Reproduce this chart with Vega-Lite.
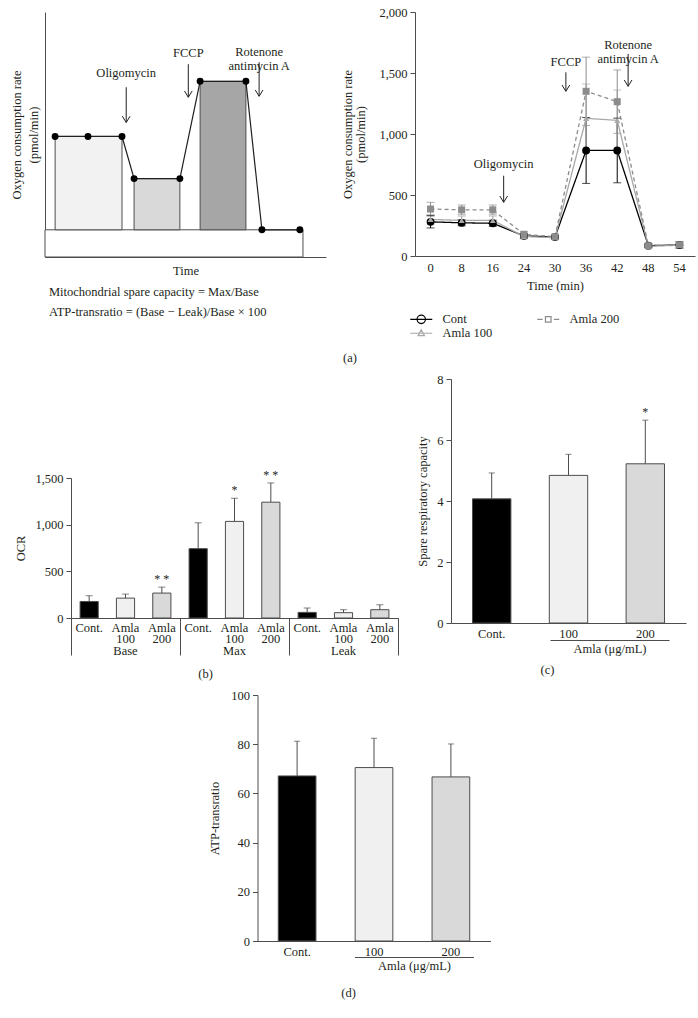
{
  "$schema": "https://vega.github.io/schema/vega-lite/v6.json",
  "background": "white",
  "padding": {"left": 10, "top": 6, "right": 0, "bottom": 5},
  "spacing": 8,
  "center": true,
  "resolve": {"scale": {"fill": "independent", "color": "independent", "shape": "independent", "size": "independent", "strokeDash": "independent", "stroke": "independent"}},
  "config": {
    "font": "Liberation Serif",
    "view": {"stroke": null},
    "axis": {"grid": false, "labelFont": "Liberation Serif", "titleFont": "Liberation Serif", "labelFontSize": 12.5, "titleFontSize": 12.5, "titleFontWeight": "normal", "labelColor": "#231f20", "titleColor": "#231f20", "domainColor": "#4d4d4d", "tickColor": "#4d4d4d", "domainWidth": 1, "tickWidth": 1},
    "title": {"font": "Liberation Serif", "fontSize": 12.5, "fontWeight": "normal", "color": "#231f20"},
    "legend": {"labelFont": "Liberation Serif", "labelFontSize": 12.5, "labelColor": "#231f20"}
  },
  "vconcat": [
    {
      "title": {"text": "(a)", "orient": "bottom", "anchor": "middle", "offset": 12, "dx": -11},
      "spacing": 15,
      "resolve": {"scale": {"fill": "independent", "color": "independent", "shape": "independent", "size": "independent", "strokeDash": "independent", "stroke": "independent"}},
      "hconcat": [
        {
          "width": 281,
          "height": 245,
          "title": {"text": ["Mitochondrial spare capacity = Max/Base", "ATP-transratio = (Base − Leak)/Base × 100"], "orient": "bottom", "anchor": "start", "frame": "group", "offset": 9, "lineHeight": 20, "dx": 4},
          "layer": [
            {
              "data": {"values": [
                {"phase": "Leak box", "x0": 0, "x1": 91.8, "y0": 0, "y1": 11.1},
                {"phase": "Base", "x0": 3.6, "x1": 27.4, "y0": 11.1, "y1": 49.2},
                {"phase": "Oligomycin", "x0": 31.7, "x1": 48.0, "y0": 11.1, "y1": 32.0},
                {"phase": "Max", "x0": 55.2, "x1": 71.5, "y0": 11.1, "y1": 71.7}
              ]},
              "mark": {"type": "rect", "stroke": "#4d4d4d", "strokeWidth": 1},
              "encoding": {
                "x": {"field": "x0", "type": "quantitative", "scale": {"domain": [0, 100], "nice": false}, "axis": {"title": "Time", "labels": false, "ticks": false, "tickSize": 0, "titlePadding": 7}},
                "x2": {"field": "x1"},
                "y": {"field": "y0", "type": "quantitative", "scale": {"domain": [0, 100], "nice": false}, "axis": {"title": ["Oxygen consumption rate", "(pmol/min)"], "labels": false, "ticks": false, "tickSize": 0, "titlePadding": 5, "titleLineHeight": 17}},
                "y2": {"field": "y1"},
                "fill": {"field": "phase", "type": "nominal", "scale": {"domain": ["Leak box", "Base", "Oligomycin", "Max"], "range": ["#ffffff", "#f2f2f2", "#d9d9d9", "#a6a6a6"]}, "legend": null}
              }
            },
            {
              "data": {"values": [
                {"x": 3.6, "y": 49.2}, {"x": 15.3, "y": 49.2}, {"x": 27.4, "y": 49.2},
                {"x": 31.7, "y": 32.0}, {"x": 48.0, "y": 32.0},
                {"x": 55.2, "y": 71.7}, {"x": 71.5, "y": 71.7},
                {"x": 77.2, "y": 11.1}, {"x": 90.7, "y": 11.1}
              ]},
              "mark": {"type": "line", "color": "#231f20", "strokeWidth": 1.2, "point": {"filled": true, "fill": "#000000", "size": 48}},
              "encoding": {
                "x": {"field": "x", "type": "quantitative", "title": "Time"},
                "y": {"field": "y", "type": "quantitative", "title": ["Oxygen consumption rate", "(pmol/min)"]}
              }
            },
            {
              "data": {"values": [
                {"label": "Oligomycin", "x": 28.9, "ytext": 72.1, "ytop": 69.3, "ybot": 54.9},
                {"label": "FCCP", "x": 51.0, "ytext": 80.5, "ytop": 78.7, "ybot": 65.2},
                {"label": "Rotenone\nantimycin A", "x": 76.2, "ytext": 80.9, "ytop": 79.5, "ybot": 65.6}
              ]},
              "layer": [
                {
                  "mark": {"type": "rule", "color": "#231f20", "strokeWidth": 1},
                  "encoding": {
                    "x": {"field": "x", "type": "quantitative", "title": "Time"},
                    "y": {"field": "ytop", "type": "quantitative", "title": ["Oxygen consumption rate", "(pmol/min)"]},
                    "y2": {"field": "ybot"}
                  }
                },
                {
                  "mark": {"type": "point", "shape": "M-0.55,-0.9L0,0L0.55,-0.9", "filled": false, "stroke": "#231f20", "strokeWidth": 1, "size": 196, "opacity": 1},
                  "encoding": {
                    "x": {"field": "x", "type": "quantitative", "title": "Time"},
                    "y": {"field": "ybot", "type": "quantitative", "title": ["Oxygen consumption rate", "(pmol/min)"]}
                  }
                },
                {
                  "mark": {"type": "text", "baseline": "bottom", "align": "center", "lineBreak": "\n", "lineHeight": 14, "fontSize": 12.5, "color": "#231f20"},
                  "encoding": {
                    "x": {"field": "x", "type": "quantitative", "title": "Time"},
                    "y": {"field": "ytext", "type": "quantitative", "title": ["Oxygen consumption rate", "(pmol/min)"]},
                    "text": {"field": "label"}
                  }
                }
              ]
            }
          ]
        },
        {
          "width": 297,
          "height": 244,
          "layer": [
            {
              "data": {"values": [
                {"time": 0, "group": "Cont", "v": 280, "lo": 230, "hi": 330},
                {"time": 8, "group": "Cont", "v": 272, "lo": 247, "hi": 297},
                {"time": 16, "group": "Cont", "v": 268, "lo": 243, "hi": 293},
                {"time": 24, "group": "Cont", "v": 165, "lo": 145, "hi": 185},
                {"time": 30, "group": "Cont", "v": 155, "lo": 140, "hi": 170},
                {"time": 36, "group": "Cont", "v": 865, "lo": 595, "hi": 1135},
                {"time": 42, "group": "Cont", "v": 865, "lo": 600, "hi": 1130},
                {"time": 48, "group": "Cont", "v": 85, "lo": 70, "hi": 100},
                {"time": 54, "group": "Cont", "v": 90, "lo": 65, "hi": 115},
                {"time": 0, "group": "Amla 100", "v": 300, "lo": 260, "hi": 340},
                {"time": 8, "group": "Amla 100", "v": 292, "lo": 257, "hi": 327},
                {"time": 16, "group": "Amla 100", "v": 292, "lo": 257, "hi": 327},
                {"time": 24, "group": "Amla 100", "v": 160, "lo": 140, "hi": 180},
                {"time": 30, "group": "Amla 100", "v": 150, "lo": 135, "hi": 165},
                {"time": 36, "group": "Amla 100", "v": 1128, "lo": 850, "hi": 1410},
                {"time": 42, "group": "Amla 100", "v": 1112, "lo": 865, "hi": 1360},
                {"time": 48, "group": "Amla 100", "v": 80, "lo": 65, "hi": 95},
                {"time": 54, "group": "Amla 100", "v": 88, "lo": 63, "hi": 113},
                {"time": 0, "group": "Amla 200", "v": 385, "lo": 330, "hi": 440},
                {"time": 8, "group": "Amla 200", "v": 378, "lo": 338, "hi": 418},
                {"time": 16, "group": "Amla 200", "v": 378, "lo": 338, "hi": 418},
                {"time": 24, "group": "Amla 200", "v": 178, "lo": 158, "hi": 198},
                {"time": 30, "group": "Amla 200", "v": 158, "lo": 143, "hi": 173},
                {"time": 36, "group": "Amla 200", "v": 1350, "lo": 1070, "hi": 1630},
                {"time": 42, "group": "Amla 200", "v": 1265, "lo": 1005, "hi": 1525},
                {"time": 48, "group": "Amla 200", "v": 85, "lo": 70, "hi": 100},
                {"time": 54, "group": "Amla 200", "v": 92, "lo": 67, "hi": 117}
              ]},
              "resolve": {"scale": {"color": "independent", "shape": "independent", "stroke": "independent", "fill": "independent"}},
              "layer": [
                {
                  "layer": [
                    {
                      "mark": {"type": "rule", "strokeWidth": 1},
                      "encoding": {
                        "x": {"field": "time", "type": "ordinal", "scale": {"type": "band", "domain": [0, 8, 16, 24, 30, 36, 42, 48, 54], "range": [0, 280], "paddingInner": 0, "paddingOuter": 0}, "axis": {"title": "Time (min)", "labelAngle": 0, "ticks": false, "tickSize": 0, "labelPadding": 5, "titlePadding": 6}},
                        "y": {"field": "lo", "type": "quantitative", "scale": {"domain": [0, 2000], "nice": false}, "axis": {"title": ["Oxygen consumption rate", "(pmol/min)"], "values": [0, 500, 1000, 1500, 2000], "format": ",.0f", "tickSize": 5, "labelPadding": 3, "titlePadding": 11, "titleLineHeight": 13}},
                        "y2": {"field": "hi"},
                        "color": {"field": "group", "type": "nominal", "scale": {"domain": ["Cont", "Amla 200", "Amla 100"], "range": ["#000000", "#8c8c8c", "#a8a8a8"]}, "legend": null}
                      }
                    },
                    {
                      "mark": {"type": "tick", "size": 8, "thickness": 1},
                      "encoding": {
                        "x": {"field": "time", "type": "ordinal"},
                        "y": {"field": "lo", "type": "quantitative"},
                        "color": {"field": "group", "type": "nominal", "legend": null}
                      }
                    },
                    {
                      "mark": {"type": "tick", "size": 8, "thickness": 1},
                      "encoding": {
                        "x": {"field": "time", "type": "ordinal"},
                        "y": {"field": "hi", "type": "quantitative"},
                        "color": {"field": "group", "type": "nominal", "legend": null}
                      }
                    },
                    {
                      "mark": {"type": "line", "strokeWidth": 1.3},
                      "encoding": {
                        "x": {"field": "time", "type": "ordinal"},
                        "y": {"field": "v", "type": "quantitative"},
                        "color": {"field": "group", "type": "nominal", "legend": null},
                        "strokeDash": {"field": "group", "type": "nominal", "scale": {"domain": ["Cont", "Amla 200", "Amla 100"], "range": [[1, 0], [4, 3], [1, 0]]}, "legend": null}
                      }
                    },
                    {
                      "mark": {"type": "point", "filled": true, "opacity": 1},
                      "encoding": {
                        "x": {"field": "time", "type": "ordinal"},
                        "y": {"field": "v", "type": "quantitative"},
                        "color": {"field": "group", "type": "nominal", "legend": null},
                        "shape": {"field": "group", "type": "nominal", "scale": {"domain": ["Cont", "Amla 200", "Amla 100"], "range": ["circle", "square", "triangle-up"]}, "legend": null},
                        "size": {"field": "group", "type": "nominal", "scale": {"domain": ["Cont", "Amla 200", "Amla 100"], "range": [62, 36, 40]}, "legend": null}
                      }
                    }
                  ]
                },
                {
                  "mark": {"type": "point", "filled": true, "opacity": 0},
                  "encoding": {
                    "x": {"field": "time", "type": "ordinal"},
                    "y": {"field": "v", "type": "quantitative"},
                    "fill": {"field": "group", "type": "nominal", "scale": {"domain": ["Cont", "Amla 200", "Amla 100"], "range": ["#000000", "#8c8c8c", "#a8a8a8"]}, "legend": {
                      "orient": "bottom", "title": null, "columns": 2, "direction": "horizontal",
                      "symbolSize": 64, "symbolOpacity": 1, "symbolStrokeWidth": 1.2, "symbolFillColor": "#000000",
                      "labelOffset": 15, "columnPadding": 41, "rowPadding": 1, "offset": 21, "padding": 0
                    }},
                    "stroke": {"field": "group", "type": "nominal", "scale": {"domain": ["Cont", "Amla 200", "Amla 100"], "range": ["#000000", "#8c8c8c", "#a8a8a8"]}},
                    "shape": {"field": "group", "type": "nominal", "scale": {"domain": ["Cont", "Amla 200", "Amla 100"], "range": [
                      "M-2.75,0L2.75,0M-1.05,0A1.05,1.05 0 1,0 1.05,0A1.05,1.05 0 1,0 -1.05,0Z",
                      "M-2.75,0L-1.4,0M1.4,0L2.75,0M-0.7,-0.7L0.7,-0.7L0.7,0.7L-0.7,0.7Z",
                      "M-2.75,0L2.75,0M0,-0.85L0.8,0.6L-0.8,0.6Z"
                    ]}, "legend": {"symbolFillColor": "#000000"}}
                  }
                }
              ]
            },
            {
              "data": {"values": [
                {"time": 16, "label": "Oligomycin", "ytext": 697, "ytop": 658, "ybot": 440},
                {"time": 30, "label": "FCCP", "ytext": 1533, "ytop": 1506, "ybot": 1350},
                {"time": 42, "label": "Rotenone\nantimycin A", "ytext": 1676, "ytop": 1656, "ybot": 1391}
              ]},
              "layer": [
                {
                  "mark": {"type": "rule", "color": "#231f20", "strokeWidth": 1},
                  "encoding": {
                    "x": {"field": "time", "type": "ordinal", "bandPosition": 0.85},
                    "y": {"field": "ytop", "type": "quantitative"},
                    "y2": {"field": "ybot"}
                  }
                },
                {
                  "mark": {"type": "point", "shape": "M-0.55,-0.9L0,0L0.55,-0.9", "filled": false, "stroke": "#231f20", "strokeWidth": 1, "size": 196, "opacity": 1},
                  "encoding": {
                    "x": {"field": "time", "type": "ordinal", "bandPosition": 0.85},
                    "y": {"field": "ybot", "type": "quantitative"}
                  }
                },
                {
                  "mark": {"type": "text", "baseline": "bottom", "align": "center", "lineBreak": "\n", "lineHeight": 14, "fontSize": 12.5, "color": "#231f20"},
                  "encoding": {
                    "x": {"field": "time", "type": "ordinal", "bandPosition": 0.85},
                    "y": {"field": "ytext", "type": "quantitative"},
                    "text": {"field": "label"}
                  }
                }
              ]
            }
          ]
        }
      ]
    },
    {
      "spacing": 17,
      "resolve": {"scale": {"fill": "independent", "color": "independent"}},
      "hconcat": [
        {
          "width": 327,
          "height": 239,
          "title": {"text": "(b)", "orient": "bottom", "anchor": "middle", "frame": "group", "dx": -29, "offset": 11},
          "data": {"values": [
            {"key": "Base/Cont.", "stat": "Base", "trt": "Cont.", "v": 177, "hi": 238, "sig": ""},
            {"key": "Base/Amla 100", "stat": "Base", "trt": "Amla 100", "v": 213, "hi": 256, "sig": ""},
            {"key": "Base/Amla 200", "stat": "Base", "trt": "Amla 200", "v": 267, "hi": 331, "sig": "* *"},
            {"key": "Max/Cont.", "stat": "Max", "trt": "Cont.", "v": 743, "hi": 1020, "sig": ""},
            {"key": "Max/Amla 100", "stat": "Max", "trt": "Amla 100", "v": 1035, "hi": 1283, "sig": "*"},
            {"key": "Max/Amla 200", "stat": "Max", "trt": "Amla 200", "v": 1241, "hi": 1447, "sig": "* *"},
            {"key": "Leak/Cont.", "stat": "Leak", "trt": "Cont.", "v": 60, "hi": 107, "sig": ""},
            {"key": "Leak/Amla 100", "stat": "Leak", "trt": "Amla 100", "v": 57, "hi": 89, "sig": ""},
            {"key": "Leak/Amla 200", "stat": "Leak", "trt": "Amla 200", "v": 89, "hi": 142, "sig": ""}
          ]},
          "resolve": {"scale": {"x": "independent"}},
          "layer": [
            {
              "layer": [
                {
                  "mark": {"type": "bar", "stroke": "#4d4d4d", "strokeWidth": 1},
                  "encoding": {
                    "x": {"field": "key", "type": "nominal", "sort": null, "scale": {"type": "band", "paddingInner": 0.5, "paddingOuter": 0.25}, "axis": {"title": null, "labelExpr": "split(datum.value, '/')[1] == 'Cont.' ? 'Cont.' : (split(datum.value, '/')[1] == 'Amla 100' ? ['Amla', '100', split(datum.value, '/')[0]] : ['Amla', '200'])", "ticks": false, "tickSize": 0, "labelPadding": 3, "labelAngle": 0, "labelLineHeight": 11.7, "labelOverlap": false, "labelBound": false, "labelBaseline": "top"}},
                    "y": {"field": "v", "type": "quantitative", "scale": {"domain": [0, 1500], "nice": false, "rangeMax": 99}, "axis": {"title": "OCR", "values": [0, 500, 1000, 1500], "format": ",.0f", "tickSize": 5, "labelPadding": 3, "titlePadding": 7}},
                    "fill": {"field": "trt", "type": "nominal", "scale": {"domain": ["Cont.", "Amla 100", "Amla 200"], "range": ["#000000", "#f0f0f0", "#d9d9d9"]}, "legend": null}
                  }
                },
                {
                  "mark": {"type": "rule", "color": "#4d4d4d", "strokeWidth": 1},
                  "encoding": {
                    "x": {"field": "key", "type": "nominal", "sort": null},
                    "y": {"field": "v", "type": "quantitative"},
                    "y2": {"field": "hi"}
                  }
                },
                {
                  "mark": {"type": "tick", "color": "#4d4d4d", "size": 7, "thickness": 1},
                  "encoding": {
                    "x": {"field": "key", "type": "nominal", "sort": null},
                    "y": {"field": "hi", "type": "quantitative"}
                  }
                },
                {
                  "mark": {"type": "text", "dy": -8, "fontSize": 12, "color": "#231f20"},
                  "encoding": {
                    "x": {"field": "key", "type": "nominal", "sort": null},
                    "y": {"field": "hi", "type": "quantitative"},
                    "text": {"field": "sig"}
                  }
                }
              ]
            },
            {
              "mark": {"type": "point", "opacity": 0},
              "encoding": {
                "x": {"field": "stat", "type": "nominal", "sort": null, "scale": {"type": "band", "paddingInner": 0, "paddingOuter": 0}, "axis": {"orient": "bottom", "title": null, "labels": false, "domain": false, "ticks": true, "tickBand": "extent", "tickSize": 37}},
                "y": {"field": "v", "type": "quantitative"}
              }
            }
          ]
        },
        {
          "width": 235,
          "height": 244,
          "title": {"text": "(c)", "orient": "bottom", "anchor": "middle", "frame": "group", "dx": -21, "offset": 9},
          "data": {"values": [
            {"trt": "Cont.", "v": 4.07, "hi": 4.92, "sig": ""},
            {"trt": "100", "v": 4.84, "hi": 5.53, "sig": ""},
            {"trt": "200", "v": 5.22, "hi": 6.65, "sig": "*"}
          ]},
          "resolve": {"scale": {"x": "independent"}},
          "layer": [
            {
              "layer": [
                {
                  "mark": {"type": "bar", "stroke": "#4d4d4d", "strokeWidth": 1},
                  "encoding": {
                    "x": {"field": "trt", "type": "nominal", "sort": null, "scale": {"type": "band", "paddingInner": 0.5, "paddingOuter": 0.28}, "axis": {"title": null, "ticks": false, "tickSize": 0, "labelPadding": 4, "labelAngle": 0}},
                    "y": {"field": "v", "type": "quantitative", "scale": {"domain": [0, 8], "nice": false}, "axis": {"title": "Spare respiratory capacity", "values": [0, 2, 4, 6, 8], "tickSize": 5, "labelPadding": 3, "titlePadding": 7}},
                    "fill": {"field": "trt", "type": "nominal", "scale": {"domain": ["Cont.", "100", "200"], "range": ["#000000", "#f0f0f0", "#d9d9d9"]}, "legend": null}
                  }
                },
                {
                  "mark": {"type": "rule", "color": "#4d4d4d", "strokeWidth": 1},
                  "encoding": {
                    "x": {"field": "trt", "type": "nominal", "sort": null},
                    "y": {"field": "v", "type": "quantitative"},
                    "y2": {"field": "hi"}
                  }
                },
                {
                  "mark": {"type": "tick", "color": "#4d4d4d", "size": 6, "thickness": 1},
                  "encoding": {
                    "x": {"field": "trt", "type": "nominal", "sort": null},
                    "y": {"field": "hi", "type": "quantitative"}
                  }
                },
                {
                  "mark": {"type": "text", "dy": -8, "fontSize": 12, "color": "#231f20"},
                  "encoding": {
                    "x": {"field": "trt", "type": "nominal", "sort": null},
                    "y": {"field": "hi", "type": "quantitative"},
                    "text": {"field": "sig"}
                  }
                }
              ]
            },
            {
              "transform": [{"filter": "datum.trt != 'Cont.'"}],
              "mark": {"type": "point", "opacity": 0},
              "encoding": {
                "x": {"field": "trt", "type": "nominal", "sort": null, "scale": {"type": "band", "range": [99, 218], "paddingInner": 0, "paddingOuter": 0}, "axis": {"orient": "bottom", "offset": 17, "title": "Amla (μg/mL)", "labels": false, "ticks": false, "tickSize": 0, "domain": true, "titlePadding": 2}},
                "y": {"field": "v", "type": "quantitative"}
              }
            }
          ]
        }
      ]
    },
    {
      "width": 242,
      "height": 246,
      "title": {"text": "(d)", "orient": "bottom", "anchor": "middle", "frame": "group", "dx": -30, "offset": 15},
      "data": {"values": [
        {"trt": "Cont.", "v": 67.1, "hi": 81.2},
        {"trt": "100", "v": 70.5, "hi": 82.4},
        {"trt": "200", "v": 66.7, "hi": 80.1}
      ]},
      "resolve": {"scale": {"x": "independent"}},
      "layer": [
        {
          "layer": [
            {
              "mark": {"type": "bar", "stroke": "#4d4d4d", "strokeWidth": 1},
              "encoding": {
                "x": {"field": "trt", "type": "nominal", "sort": null, "scale": {"type": "band", "range": [0, 233], "paddingInner": 0.51, "paddingOuter": 0.27}, "axis": {"title": null, "ticks": false, "tickSize": 0, "labelPadding": 4, "labelAngle": 0}},
                "y": {"field": "v", "type": "quantitative", "scale": {"domain": [0, 100], "nice": false}, "axis": {"title": "ATP-transratio", "values": [0, 20, 40, 60, 80, 100], "tickSize": 5, "labelPadding": 3, "titlePadding": 9}},
                "fill": {"field": "trt", "type": "nominal", "scale": {"domain": ["Cont.", "100", "200"], "range": ["#000000", "#f0f0f0", "#d9d9d9"]}, "legend": null}
              }
            },
            {
              "mark": {"type": "rule", "color": "#4d4d4d", "strokeWidth": 1},
              "encoding": {
                "x": {"field": "trt", "type": "nominal", "sort": null},
                "y": {"field": "v", "type": "quantitative"},
                "y2": {"field": "hi"}
              }
            },
            {
              "mark": {"type": "tick", "color": "#4d4d4d", "size": 6, "thickness": 1},
              "encoding": {
                "x": {"field": "trt", "type": "nominal", "sort": null},
                "y": {"field": "hi", "type": "quantitative"}
              }
            }
          ]
        },
        {
          "transform": [{"filter": "datum.trt != 'Cont.'"}],
          "mark": {"type": "point", "opacity": 0},
          "encoding": {
            "x": {"field": "trt", "type": "nominal", "sort": null, "scale": {"type": "band", "range": [97, 216], "paddingInner": 0, "paddingOuter": 0}, "axis": {"orient": "bottom", "offset": 16, "title": "Amla (μg/mL)", "labels": false, "ticks": false, "tickSize": 0, "domain": true, "titlePadding": 2}},
            "y": {"field": "v", "type": "quantitative"}
          }
        }
      ]
    }
  ]
}
